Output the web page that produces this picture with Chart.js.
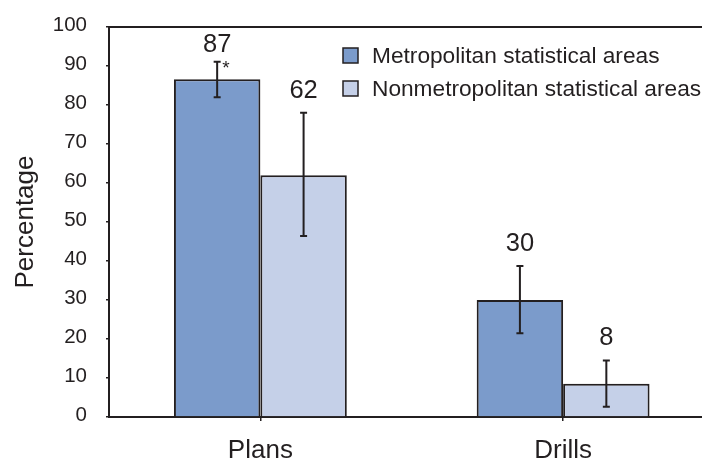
<!DOCTYPE html>
<html>
<head>
<meta charset="utf-8">
<script src="https://cdn.jsdelivr.net/npm/chart.js@4"></script>
<style>
  html, body { margin: 0; padding: 0; background: #fff; overflow: hidden; width: 702px; height: 460px; }
  #wrap { position: relative; width: 716px; height: 460px; }
</style>
</head>
<body>
<div id="wrap"><canvas id="c" width="716" height="460"></canvas></div>
<script>
const categories = ['Plans', 'Drills'];
const seriesNames = ['Metropolitan statistical areas', 'Nonmetropolitan statistical areas'];
const metroValues = [86.6, 30];
const nonmetroValues = [62, 8.5];
const metroErrLow = [82, 21.5];
const metroErrHigh = [91.1, 38.7];
const nonmetroErrLow = [46.4, 2.6];
const nonmetroErrHigh = [78, 14.5];
const metroLabels = ['87', '30'];
const nonmetroLabels = ['62', '8'];
const metroMarks = ['*', ''];
const nonmetroMarks = ['', ''];
const yTicks = [0, 10, 20, 30, 40, 50, 60, 70, 80, 90, 100];

const INK = '#231f20';
const FONT = "'Liberation Sans', Arial, Helvetica, sans-serif";

const extras = [
  { low: metroErrLow, high: metroErrHigh, labels: metroLabels, marks: metroMarks },
  { low: nonmetroErrLow, high: nonmetroErrHigh, labels: nonmetroLabels, marks: nonmetroMarks }
];

const decorPlugin = {
  id: 'decor',
  afterDatasetsDraw(chart) {
    const ctx = chart.ctx;
    const y = chart.scales.y;
    const area = chart.chartArea;
    ctx.save();
    ctx.strokeStyle = INK;
    ctx.lineWidth = 2;
    ctx.beginPath();
    ctx.moveTo(area.left - 1, area.top);
    ctx.lineTo(chart.width, area.top);
    ctx.stroke();
    chart.data.datasets.forEach((ds, di) => {
      const meta = chart.getDatasetMeta(di);
      const ex = extras[di];
      meta.data.forEach((bar, i) => {
        const x = bar.x;
        const yl = y.getPixelForValue(ex.low[i]);
        const yh = y.getPixelForValue(ex.high[i]);
        ctx.strokeStyle = INK;
        ctx.lineWidth = 2;
        ctx.beginPath();
        ctx.moveTo(x, yl); ctx.lineTo(x, yh);
        ctx.moveTo(x - 3.5, yl); ctx.lineTo(x + 3.5, yl);
        ctx.moveTo(x - 3.5, yh); ctx.lineTo(x + 3.5, yh);
        ctx.stroke();
        ctx.fillStyle = INK;
        ctx.font = '25.5px ' + FONT;
        ctx.textAlign = 'center';
        ctx.textBaseline = 'middle';
        const ly = Math.max(yh - 22, area.top + 18);
        ctx.fillText(ex.labels[i], x, ly);
        if (ex.marks[i]) {
          ctx.font = '19px ' + FONT;
          ctx.textAlign = 'left';
          ctx.textBaseline = 'top';
          ctx.fillText(ex.marks[i], x + 5, yh - 2);
        }
      });
    });
    chart.data.datasets.forEach((ds, di) => {
      const lx = 343, ly = 48 + di * 33;
      ctx.fillStyle = ds.backgroundColor;
      ctx.fillRect(lx, ly, 15, 15);
      ctx.strokeStyle = INK;
      ctx.lineWidth = 1.5;
      ctx.strokeRect(lx, ly, 15, 15);
      ctx.fillStyle = INK;
      ctx.font = '22.7px ' + FONT;
      ctx.textAlign = 'left';
      ctx.textBaseline = 'middle';
      ctx.fillText(ds.label, 372, ly + 9);
    });
    ctx.restore();
  }
};

new Chart(document.getElementById('c'), {
  type: 'bar',
  data: {
    labels: categories,
    datasets: [
      { label: seriesNames[0], data: metroValues, backgroundColor: '#7b9bcb', borderColor: INK, borderWidth: 2 },
      { label: seriesNames[1], data: nonmetroValues, backgroundColor: '#c5d0e8', borderColor: INK, borderWidth: 2 }
    ]
  },
  options: {
    responsive: false,
    animation: false,
    events: [],
    layout: { padding: { top: 27, right: 1.5, left: 0, bottom: 0 } },
    datasets: { bar: { categoryPercentage: 0.571, barPercentage: 1.0 } },
    plugins: { legend: { display: false }, tooltip: { enabled: false } },
    scales: {
      x: {
        offset: true,
        grid: { display: true, offset: false, drawOnChartArea: false, drawTicks: true, tickLength: 4, color: INK, lineWidth: 1.5 },
        border: { display: true, color: INK, width: 2 },
        ticks: { color: INK, font: { family: FONT, size: 26 }, padding: 14, maxRotation: 0 },
        afterFit(scale) { scale.height = 43; scale.paddingLeft = 0; scale.paddingRight = 0; }
      },
      y: {
        min: 0, max: 100,
        afterBuildTicks(scale) { scale.ticks = yTicks.map(v => ({ value: v })); },
        grid: { display: true, drawOnChartArea: false, drawTicks: true, tickLength: 3, color: INK, lineWidth: 1.5 },
        border: { display: true, color: INK, width: 2 },
        ticks: { color: INK, font: { family: FONT, size: 20.5 }, padding: 19, labelOffset: -1.5 },
        title: { display: true, text: 'Percentage', color: INK, font: { family: FONT, size: 26 }, padding: { top: 10, bottom: 0 } },
        afterFit(scale) { scale.width = 109; scale.paddingTop = 0; scale.paddingBottom = 0; }
      }
    }
  },
  plugins: [decorPlugin]
});
</script>
</body>
</html>
